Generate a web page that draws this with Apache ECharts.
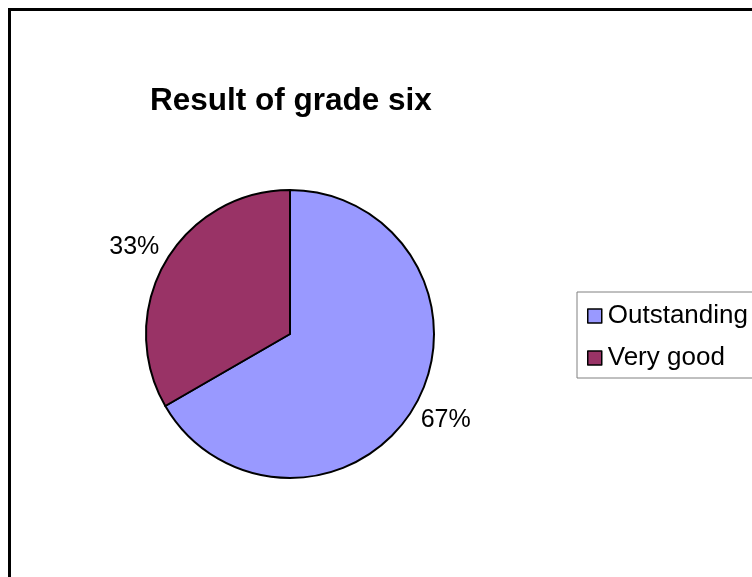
<!DOCTYPE html>
<html>
<head>
<meta charset="utf-8">
<script src="https://cdn.jsdelivr.net/npm/echarts@6/dist/echarts.min.js"></script>
<style>
  html, body { margin: 0; padding: 0; background: #fff; }
  #chart { width: 752px; height: 577px; }
</style>
</head>
<body>
<div id="chart"></div>
<script>
// grade results
const categories = ['Outstanding', 'Very good'];
const values = [2, 1];
const colors = ['#9999FF', '#993366'];

const font = '"Liberation Sans", Arial, sans-serif';

let chart = echarts.init(document.getElementById('chart'), null, { renderer: 'canvas' });

let option = {
  backgroundColor: '#fff',
  title: {
    text: 'Result of grade six',
    left: 150,
    top: 85,
    padding: 0,
    textStyle: { fontFamily: font, fontSize: 31.5, fontWeight: 'bold', color: '#000' }
  },
  legend: {
    orient: 'vertical',
    left: 577,
    top: 292,
    padding: [11, 80, 7, 10],
    itemGap: 16,
    itemWidth: 14,
    itemHeight: 14,
    icon: 'rect',
    borderColor: '#808080',
    borderWidth: 1,
    itemStyle: { borderColor: '#000', borderWidth: 1.5 },
    textStyle: { fontFamily: font, fontSize: 26, color: '#000', padding: [0, 0, 0, 1] },
    data: categories
  },
  graphic: [{
    type: 'rect',
    shape: { x: 9.5, y: 9.5, width: 900, height: 800 },
    style: { fill: 'none', stroke: '#000', lineWidth: 3 },
    silent: true,
    z: 100
  }],
  series: [{
    type: 'pie',
    center: [290, 334],
    radius: 144,
    startAngle: 90,
    clockwise: true,
    percentPrecision: 0,
    animation: false,
    itemStyle: { borderColor: '#000', borderWidth: 2 },
    label: {
      show: true,
      position: 'outside',
      formatter: '{d}%',
      fontFamily: font,
      fontSize: 25,
      color: '#000'
    },
    labelLine: { show: false, length: 15, length2: 0 },
    labelLayout: function (p) {
      return p.dataIndex === 0 ? { dx: -12, dy: 7 } : { dx: 12, dy: -7 };
    },
    emphasis: { disabled: true },
    data: categories.map((c, i) => ({ name: c, value: values[i], itemStyle: { color: colors[i] } }))
  }]
};

chart.setOption(option);
</script>
</body>
</html>
